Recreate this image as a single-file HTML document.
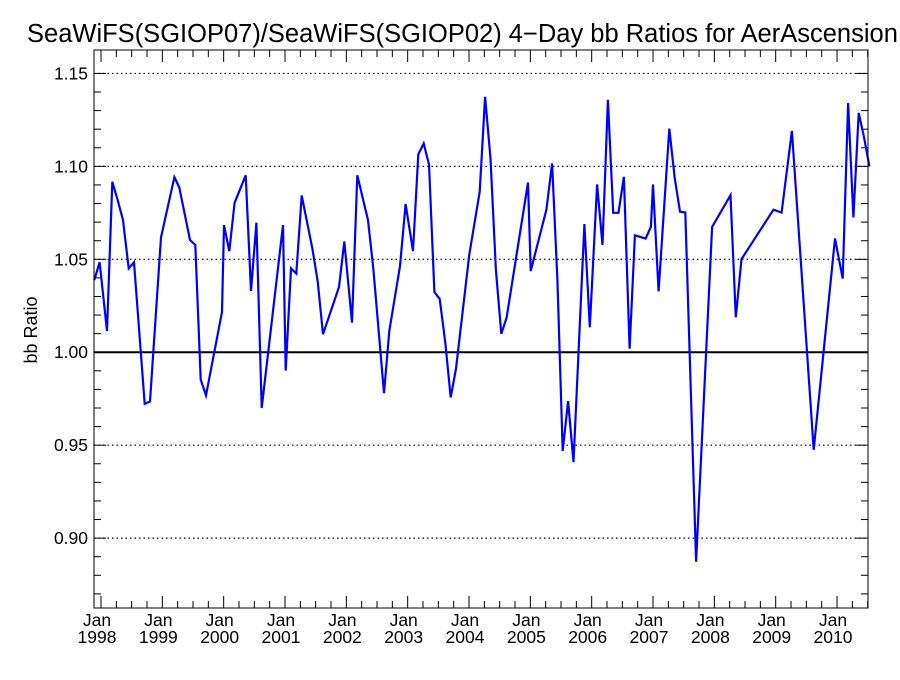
<!DOCTYPE html>
<html><head><meta charset="utf-8"><style>
body{margin:0;background:#fff;overflow:hidden;}
svg text{font-family:"Liberation Sans",sans-serif;fill:#000;}
</style></head><body>
<svg id="chart" width="900" height="675" xmlns="http://www.w3.org/2000/svg">
<text x="27" y="42" font-size="25.5">SeaWiFS(SGIOP07)/SeaWiFS(SGIOP02) 4−Day bb Ratios for AerAscension</text>
<text transform="translate(37,330) rotate(-90)" text-anchor="middle" font-size="18">bb Ratio</text>
<g id="grid"></g><g id="axes"></g><g id="series"></g>
<rect x="94" y="50" width="774" height="558" fill="none" stroke="#000" stroke-width="1"/>
</svg>
<script>
const years=[1997.891,1997.978,1998.098,1998.185,1998.272,1998.359,1998.451,1998.538,1998.712,1998.799,1998.978,1999.196,1999.277,1999.451,1999.538,1999.625,1999.712,1999.973,2000.005,2000.092,2000.179,2000.359,2000.446,2000.533,2000.620,2000.967,2001.011,2001.098,2001.185,2001.272,2001.446,2001.533,2001.620,2001.880,2001.967,2002.092,2002.179,2002.353,2002.440,2002.614,2002.701,2002.875,2002.967,2003.087,2003.174,2003.261,2003.348,2003.435,2003.522,2003.614,2003.701,2003.788,2004.005,2004.174,2004.263,2004.350,2004.439,2004.526,2004.613,2004.962,2005.005,2005.261,2005.354,2005.441,2005.528,2005.615,2005.703,2005.882,2005.970,2006.089,2006.176,2006.264,2006.351,2006.438,2006.525,2006.618,2006.705,2006.879,2006.966,2006.999,2007.091,2007.266,2007.353,2007.440,2007.527,2007.702,2007.963,2008.263,2008.350,2008.442,2008.965,2009.096,2009.265,2009.619,2009.967,2010.093,2010.180,2010.267,2010.354,2010.441,2010.528];
const ratios=[1.0388,1.0484,1.0114,1.0917,1.0818,1.0711,1.0451,1.0484,0.9722,0.9735,1.0618,1.0942,1.0886,1.0604,1.0577,0.9854,0.9768,1.0217,1.0684,1.0544,1.0804,1.0952,1.0330,1.0697,0.9700,1.0684,0.9901,1.0451,1.0423,1.0843,1.0557,1.0381,1.0097,1.0351,1.0596,1.0159,1.0952,1.0711,1.0451,0.9780,1.0114,1.0464,1.0797,1.0544,1.1065,1.1123,1.1010,1.0324,1.0287,1.0052,0.9757,0.9912,1.0526,1.0863,1.1374,1.1041,1.0443,1.0099,1.0186,1.0913,1.0437,1.0767,1.1016,1.0392,0.9469,0.9737,0.9409,1.0690,1.0134,1.0903,1.0577,1.1358,1.0750,1.0750,1.0944,1.0019,1.0629,1.0612,1.0674,1.0903,1.0328,1.1203,1.0938,1.0756,1.0752,0.8873,1.0674,1.0845,1.0188,1.0501,1.0767,1.0752,1.1191,0.9475,1.0612,1.0396,1.1341,1.0725,1.1288,1.1154,1.1000];
const yTicks=[0.90,0.95,1.00,1.05,1.10,1.15];
const yTickLabels=["0.90","0.95","1.00","1.05","1.10","1.15"];
const xYears=[1998,1999,2000,2001,2002,2003,2004,2005,2006,2007,2008,2009,2010];
const L=94,R=868,T=50,B=608,X0=1997.886,X1=2010.505,Y0=0.8624,Y1=1.1626;
const sx=v=>L+(v-X0)/(X1-X0)*(R-L);
const sy=v=>B-(v-Y0)/(Y1-Y0)*(B-T);
const NS="http://www.w3.org/2000/svg";
function mk(tag,attrs,parent){const e=document.createElementNS(NS,tag);for(const k in attrs)e.setAttribute(k,attrs[k]);parent.appendChild(e);return e;}
const grid=document.getElementById('grid'),axes=document.getElementById('axes'),series=document.getElementById('series');
yTicks.forEach((v,i)=>{
  const y=sy(v);
  const ln=mk('line',{x1:L,x2:R,y1:y,y2:y,stroke:'#000','stroke-width':Math.abs(v-1)<1e-9?2:1.2,'stroke-dasharray':Math.abs(v-1)<1e-9?'none':'1.5,3'},grid);
  
  
  const t=mk('text',{x:88,y:y+6,'text-anchor':'end','font-size':'17.5'},axes);
  t.textContent=yTickLabels[i];
  
  
});
for(let v=0.87;v<=1.16;v+=0.01){
  const y=sy(v);
  const maj=Math.abs(Math.round(v*100)%5)===0;
  const len=maj?12:7;
  const a=mk('line',{x1:L,x2:L+len,y1:y,y2:y,stroke:'#000','stroke-width':1},axes);
  
  
  const b=mk('line',{x1:R-len,x2:R,y1:y,y2:y,stroke:'#000','stroke-width':1},axes);
  
  
}
for(let yr=1998;yr<=2010.5;yr+=0.25){
  const x=sx(yr);
  const maj=Math.abs(yr-Math.round(yr))<1e-9;
  const len=maj?12:7;
  const a=mk('line',{x1:x,x2:x,y1:B,y2:B-len,stroke:'#000','stroke-width':1},axes);
  
  
  const b=mk('line',{x1:x,x2:x,y1:T,y2:T+len,stroke:'#000','stroke-width':1},axes);
  
  
}
xYears.forEach(yr=>{
  const x=sx(yr);
  const t1=mk('text',{x:x-4,y:626,'text-anchor':'middle','font-size':'17.5'},axes);
  t1.textContent='Jan';
  
  
  const t2=mk('text',{x:x-4,y:643,'text-anchor':'middle','font-size':'17.5'},axes);
  t2.textContent=String(yr);
  
  
});
const d=years.map((x,i)=>(i?'L':'M')+sx(x).toFixed(1)+','+sy(ratios[i]).toFixed(1)).join(' ');
const p=mk('path',{d:d,fill:'none',stroke:'#0000ff','stroke-width':2.2,'stroke-linejoin':'miter'},series);


</script>
</body></html>
